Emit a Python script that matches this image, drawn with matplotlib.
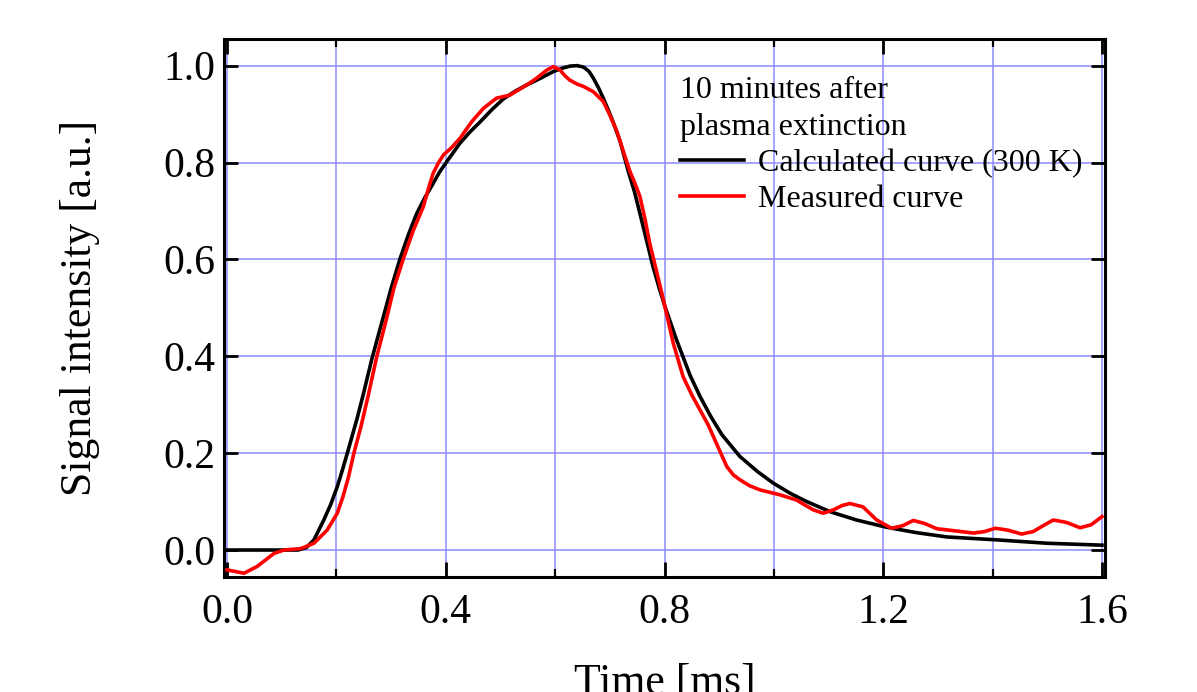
import matplotlib
matplotlib.use('Agg')
import matplotlib.pyplot as plt
from matplotlib.ticker import MultipleLocator, FormatStrFormatter

plt.rcParams['font.family'] = ['Liberation Serif', 'DejaVu Serif']

# 计算曲线 (300 K)
calc_t = [0.0, 0.13, 0.145, 0.159, 0.177, 0.190, 0.2017, 0.211, 0.220, 0.238, 0.250,
          0.265, 0.286, 0.300, 0.316, 0.332, 0.347, 0.362, 0.377, 0.389, 0.402,
          0.426, 0.445, 0.463, 0.485, 0.505, 0.528, 0.548, 0.575, 0.597, 0.614,
          0.627, 0.640, 0.652, 0.662, 0.670, 0.679, 0.688, 0.697, 0.706, 0.719,
          0.734, 0.745, 0.755, 0.767, 0.779, 0.790, 0.801, 0.822, 0.847, 0.865,
          0.885, 0.905, 0.938, 0.970, 0.999, 1.030, 1.060, 1.103, 1.151, 1.206,
          1.260, 1.316, 1.407, 1.499, 1.60]
calc_i = [0.0, 0.0, 0.005, 0.021, 0.062, 0.095, 0.131, 0.165, 0.200, 0.272, 0.325,
          0.395, 0.482, 0.540, 0.600, 0.652, 0.695, 0.728, 0.757, 0.781, 0.802,
          0.840, 0.864, 0.884, 0.910, 0.931, 0.948, 0.960, 0.975, 0.988, 0.995,
          0.999, 1.000, 0.997, 0.988, 0.974, 0.955, 0.933, 0.909, 0.884, 0.843,
          0.781, 0.740, 0.695, 0.640, 0.585, 0.542, 0.502, 0.434, 0.360, 0.317,
          0.275, 0.238, 0.193, 0.162, 0.138, 0.117, 0.100, 0.079, 0.062, 0.047,
          0.036, 0.027, 0.021, 0.014, 0.010]

# 测量曲线
meas_t = [0.0, 0.031, 0.055, 0.086, 0.104, 0.135, 0.159, 0.183, 0.2017, 0.212,
          0.222, 0.232, 0.245, 0.258, 0.274, 0.290, 0.305, 0.322, 0.340, 0.359,
          0.368, 0.377, 0.387, 0.396, 0.410, 0.426, 0.448, 0.469, 0.493, 0.517,
          0.548, 0.566, 0.585, 0.597, 0.609, 0.618, 0.627, 0.640, 0.652, 0.670,
          0.688, 0.700, 0.713, 0.725, 0.737, 0.746, 0.755, 0.764, 0.773, 0.786,
          0.798, 0.816, 0.834, 0.850, 0.865, 0.880, 0.895, 0.914, 0.926, 0.938,
          0.955, 0.975, 1.011, 1.042, 1.058, 1.072, 1.090, 1.109, 1.125, 1.139,
          1.163, 1.188, 1.215, 1.235, 1.255, 1.275, 1.298, 1.328, 1.365, 1.385,
          1.405, 1.428, 1.453, 1.474, 1.492, 1.511, 1.535, 1.560, 1.580, 1.600]
meas_i = [-0.041, -0.048, -0.034, -0.007, 0.0, 0.003, 0.014, 0.041, 0.076, 0.110,
          0.150, 0.200, 0.255, 0.318, 0.400, 0.470, 0.540, 0.600, 0.658, 0.709,
          0.745, 0.778, 0.800, 0.816, 0.830, 0.850, 0.885, 0.912, 0.933, 0.939,
          0.960, 0.974, 0.991, 0.998, 0.991, 0.979, 0.970, 0.962, 0.957, 0.946,
          0.926, 0.898, 0.864, 0.822, 0.781, 0.757, 0.730, 0.685, 0.633, 0.573,
          0.516, 0.427, 0.358, 0.320, 0.289, 0.258, 0.220, 0.172, 0.155, 0.145,
          0.133, 0.124, 0.114, 0.103, 0.092, 0.083, 0.076, 0.083, 0.092, 0.096,
          0.089, 0.062, 0.045, 0.050, 0.061, 0.055, 0.044, 0.040, 0.035, 0.038,
          0.045, 0.041, 0.033, 0.038, 0.050, 0.062, 0.057, 0.046, 0.052, 0.069]

fig = plt.figure(figsize=(11.97, 6.92), dpi=100)
ax = fig.add_axes([224 / 1197, 1 - 577 / 692, 881 / 1197, 538 / 692])

ax.plot(calc_t, calc_i, color='black', lw=2.6, label='Calculated curve (300 K)', zorder=3)
ax.plot(meas_t, meas_i, color='#ff0000', lw=2.6, label='Measured curve', zorder=4)

ax.set_xlim(-0.0055, 1.6055)
ax.set_ylim(-0.0557, 1.055)

ax.xaxis.set_major_locator(MultipleLocator(0.4))
ax.xaxis.set_minor_locator(MultipleLocator(0.2))
ax.yaxis.set_major_locator(MultipleLocator(0.2))
ax.xaxis.set_major_formatter(FormatStrFormatter('%.1f'))
ax.yaxis.set_major_formatter(FormatStrFormatter('%.1f'))

ax.grid(True, which='both', axis='x', color='#8c8cff', lw=1.1)
ax.grid(True, which='major', axis='y', color='#8c8cff', lw=1.1)
ax.set_axisbelow(True)

ax.tick_params(axis='x', which='major', direction='in', length=11, width=2,
               top=True, bottom=True, labelsize=30, pad=12)
ax.tick_params(axis='x', which='minor', direction='in', length=6, width=1.6,
               top=True, bottom=True)
ax.tick_params(axis='y', which='major', direction='in', length=10, width=2,
               left=True, right=True, labelsize=30, pad=6)
for s in ax.spines.values():
    s.set_linewidth(2.2)

# 参考图中x轴标题底部被裁切，保持相同位置
ax.set_xlabel('Time [ms]', fontsize=31.5, labelpad=22)
ax.set_ylabel('Signal intensity [a.u.]', fontsize=31.5, labelpad=46)

leg = ax.legend(title='10 minutes after\nplasma extinction', loc='upper left',
                bbox_to_anchor=((680 - 224) / 881, (577 - 76) / 538),
                frameon=False, fontsize=23, title_fontsize=23,
                handlelength=2.0, handletextpad=0.45, labelspacing=0.22,
                borderpad=0, borderaxespad=0)
leg.get_title().set_linespacing(1.35)
leg._legend_box.align = 'left'

fig.savefig('out.png', dpi=100)
